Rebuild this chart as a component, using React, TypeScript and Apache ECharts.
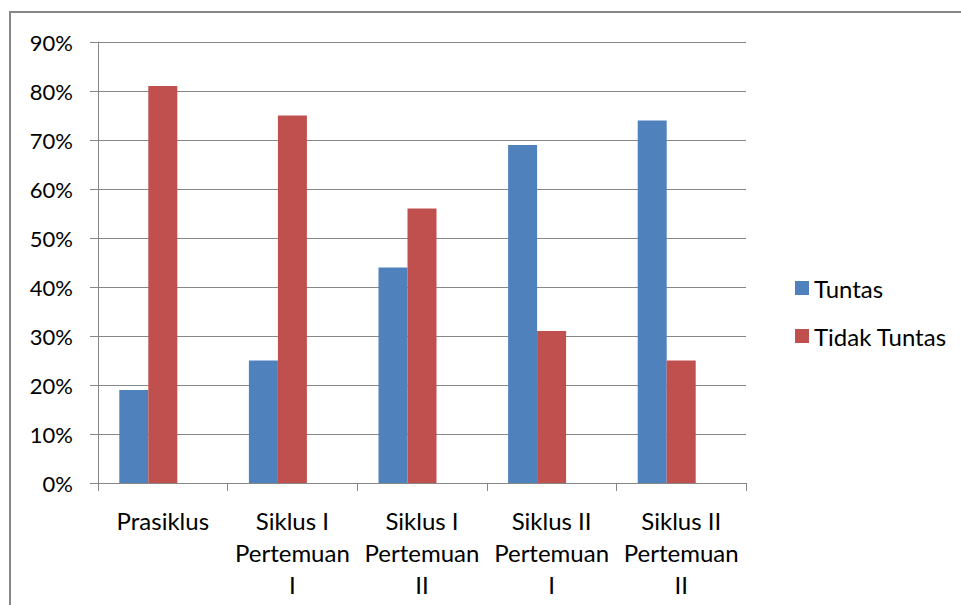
import React, { useEffect, useRef } from "react";
import * as echarts from "echarts";

const categories = [
  "Prasiklus",
  "Siklus I\nPertemuan\nI",
  "Siklus I\nPertemuan\nII",
  "Siklus II\nPertemuan\nI",
  "Siklus II\nPertemuan\nII",
];
const tuntas = [0.19, 0.25, 0.44, 0.69, 0.74];
const tidakTuntas = [0.81, 0.75, 0.56, 0.31, 0.25];
const seriesNames = ["Tuntas", "Tidak Tuntas"];

const FONT = "Lato, 'Open Sans', sans-serif";

export default function App() {
  const ref = useRef<HTMLDivElement>(null);
  useEffect(() => {
    if (!ref.current) return;
    const chart = echarts.init(ref.current, null, { renderer: "svg" });
    chart.setOption({
      animation: false,
      backgroundColor: "#ffffff",
      textStyle: { fontFamily: FONT },
      graphic: [
        {
          type: "rect",
          shape: { x: 10, y: 12, width: 1000, height: 700 },
          style: { fill: "none", stroke: "#878787", lineWidth: 2 },
          silent: true,
        },
      ],
      grid: { left: 98, right: 215, top: 42, bottom: 122, containLabel: false },
      legend: {
        data: seriesNames,
        orient: "vertical",
        left: 790,
        top: 271,
        itemWidth: 14,
        itemHeight: 14,
        itemGap: 24,
        icon: "rect",
        textStyle: { fontSize: 24, color: "#000", fontFamily: FONT },
      },
      xAxis: {
        type: "category",
        data: categories,
        axisLine: { lineStyle: { color: "#878787", width: 1 } },
        axisTick: { show: true, length: 8, lineStyle: { color: "#878787" } },
        axisLabel: {
          interval: 0,
          margin: 21,
          fontSize: 24,
          lineHeight: 32,
          color: "#000",
          fontFamily: FONT,
        },
      },
      yAxis: {
        type: "value",
        min: 0,
        max: 0.9,
        interval: 0.1,
        axisLine: { show: true, lineStyle: { color: "#878787", width: 1 } },
        axisTick: { show: true, length: 8, lineStyle: { color: "#878787" } },
        splitLine: { lineStyle: { color: "#878787", width: 1 } },
        axisLabel: {
          margin: 25,
          fontSize: 22,
          color: "#000",
          fontFamily: FONT,
          formatter: (v: number) => Math.round(v * 100) + "%",
        },
      },
      series: [
        {
          name: seriesNames[0],
          type: "bar",
          data: tuntas,
          barWidth: 29,
          barGap: "0%",
          itemStyle: { color: "#4F81BD" },
        },
        {
          name: seriesNames[1],
          type: "bar",
          data: tidakTuntas,
          barWidth: 29,
          barGap: "0%",
          itemStyle: { color: "#C0504D" },
        },
        {
          name: "_spacer",
          type: "bar",
          data: [],
          barWidth: 29,
          barGap: "0%",
          itemStyle: { color: "transparent" },
        },
      ],
    });
    return () => chart.dispose();
  }, []);
  return (
    <div
      ref={ref}
      style={{ position: "fixed", left: 0, top: 0, width: 961, height: 605 }}
    />
  );
}
